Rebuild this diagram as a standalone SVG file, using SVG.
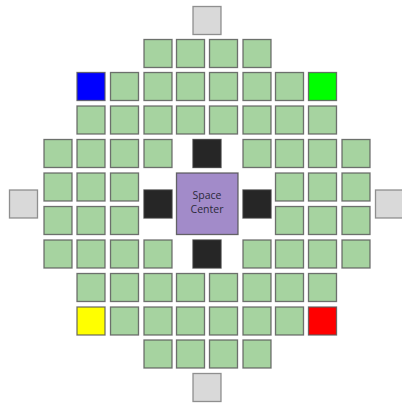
<svg xmlns="http://www.w3.org/2000/svg" width="402" height="403" viewBox="0 0 402 403">
<style>
rect{stroke:#5a5a5a;stroke-width:1.3;stroke-opacity:0.85}
.g{fill:#a6d3a0}
.k{fill:#262626;stroke:#3a3a3a}
.w{fill:#d9d9d9;stroke:#7f7f7f}
.p{fill:#a28bc9;stroke:#505050}
text{font-family:"Open Sans","Liberation Sans",sans-serif;font-size:10.5px;fill:#2a2a3a;text-anchor:middle}
</style>
<g id="connectors"/>
<g id="grid">
<g id="r0">
<rect class="g" x="144" y="39.5" width="28" height="28"/>
<rect class="g" x="176.5" y="39.5" width="28" height="28"/>
<rect class="g" x="209.5" y="39.5" width="28" height="28"/>
<rect class="g" x="243" y="39.5" width="28" height="28"/>
</g>
<g id="r1">
<rect x="77" y="72.5" width="28" height="28" fill="#0000ff"/>
<rect class="g" x="110.5" y="72.5" width="28" height="28"/>
<rect class="g" x="144" y="72.5" width="28" height="28"/>
<rect class="g" x="176.5" y="72.5" width="28" height="28"/>
<rect class="g" x="209.5" y="72.5" width="28" height="28"/>
<rect class="g" x="243" y="72.5" width="28" height="28"/>
<rect class="g" x="275.5" y="72.5" width="28" height="28"/>
<rect x="308.5" y="72.5" width="28" height="28" fill="#00ff00"/>
</g>
<g id="r2">
<rect class="g" x="77" y="106" width="28" height="28"/>
<rect class="g" x="110.5" y="106" width="28" height="28"/>
<rect class="g" x="144" y="106" width="28" height="28"/>
<rect class="g" x="176.5" y="106" width="28" height="28"/>
<rect class="g" x="209.5" y="106" width="28" height="28"/>
<rect class="g" x="243" y="106" width="28" height="28"/>
<rect class="g" x="275.5" y="106" width="28" height="28"/>
<rect class="g" x="308.5" y="106" width="28" height="28"/>
</g>
<g id="r3">
<rect class="g" x="44" y="139.5" width="28" height="28"/>
<rect class="g" x="77" y="139.5" width="28" height="28"/>
<rect class="g" x="110.5" y="139.5" width="28" height="28"/>
<rect class="g" x="144" y="139.5" width="28" height="28"/>
<rect class="g" x="243" y="139.5" width="28" height="28"/>
<rect class="g" x="275.5" y="139.5" width="28" height="28"/>
<rect class="g" x="308.5" y="139.5" width="28" height="28"/>
<rect class="g" x="342" y="139.5" width="28" height="28"/>
</g>
<g id="r4">
<rect class="g" x="44" y="173" width="28" height="28"/>
<rect class="g" x="77" y="173" width="28" height="28"/>
<rect class="g" x="110.5" y="173" width="28" height="28"/>
<rect class="g" x="275.5" y="173" width="28" height="28"/>
<rect class="g" x="308.5" y="173" width="28" height="28"/>
<rect class="g" x="342" y="173" width="28" height="28"/>
</g>
<g id="r5">
<rect class="g" x="44" y="206.5" width="28" height="28"/>
<rect class="g" x="77" y="206.5" width="28" height="28"/>
<rect class="g" x="110.5" y="206.5" width="28" height="28"/>
<rect class="g" x="275.5" y="206.5" width="28" height="28"/>
<rect class="g" x="308.5" y="206.5" width="28" height="28"/>
<rect class="g" x="342" y="206.5" width="28" height="28"/>
</g>
<g id="r6">
<rect class="g" x="44" y="240" width="28" height="28"/>
<rect class="g" x="77" y="240" width="28" height="28"/>
<rect class="g" x="110.5" y="240" width="28" height="28"/>
<rect class="g" x="144" y="240" width="28" height="28"/>
<rect class="g" x="243" y="240" width="28" height="28"/>
<rect class="g" x="275.5" y="240" width="28" height="28"/>
<rect class="g" x="308.5" y="240" width="28" height="28"/>
<rect class="g" x="342" y="240" width="28" height="28"/>
</g>
<g id="r7">
<rect class="g" x="77" y="273.5" width="28" height="28"/>
<rect class="g" x="110.5" y="273.5" width="28" height="28"/>
<rect class="g" x="144" y="273.5" width="28" height="28"/>
<rect class="g" x="176.5" y="273.5" width="28" height="28"/>
<rect class="g" x="209.5" y="273.5" width="28" height="28"/>
<rect class="g" x="243" y="273.5" width="28" height="28"/>
<rect class="g" x="275.5" y="273.5" width="28" height="28"/>
<rect class="g" x="308.5" y="273.5" width="28" height="28"/>
</g>
<g id="r8">
<rect x="77" y="307" width="28" height="28" fill="#ffff00"/>
<rect class="g" x="110.5" y="307" width="28" height="28"/>
<rect class="g" x="144" y="307" width="28" height="28"/>
<rect class="g" x="176.5" y="307" width="28" height="28"/>
<rect class="g" x="209.5" y="307" width="28" height="28"/>
<rect class="g" x="243" y="307" width="28" height="28"/>
<rect class="g" x="275.5" y="307" width="28" height="28"/>
<rect x="308.5" y="307" width="28" height="28" fill="#ff0000"/>
</g>
<g id="r9">
<rect class="g" x="144" y="340" width="28" height="28"/>
<rect class="g" x="176.5" y="340" width="28" height="28"/>
<rect class="g" x="209.5" y="340" width="28" height="28"/>
<rect class="g" x="243" y="340" width="28" height="28"/>
</g>
</g>
<g id="black">
<rect class="k" x="193" y="139.5" width="28" height="28"/>
<rect class="k" x="144" y="190" width="28" height="28"/>
<rect class="k" x="243" y="190" width="28" height="28"/>
<rect class="k" x="193" y="240" width="28" height="28"/>
</g>
<g id="gates">
<rect class="w" x="193" y="6.5" width="28" height="28"/>
<rect class="w" x="9.5" y="190" width="28" height="28"/>
<rect class="w" x="375.5" y="190" width="28" height="28"/>
<rect class="w" x="193" y="373.5" width="28" height="28"/>
</g>
<g id="space-center">
<rect class="p" x="176.5" y="173" width="61.5" height="61.5"/>
<text x="207" y="199">Space</text>
<text x="207" y="212.5">Center</text>
</g>
</svg>
